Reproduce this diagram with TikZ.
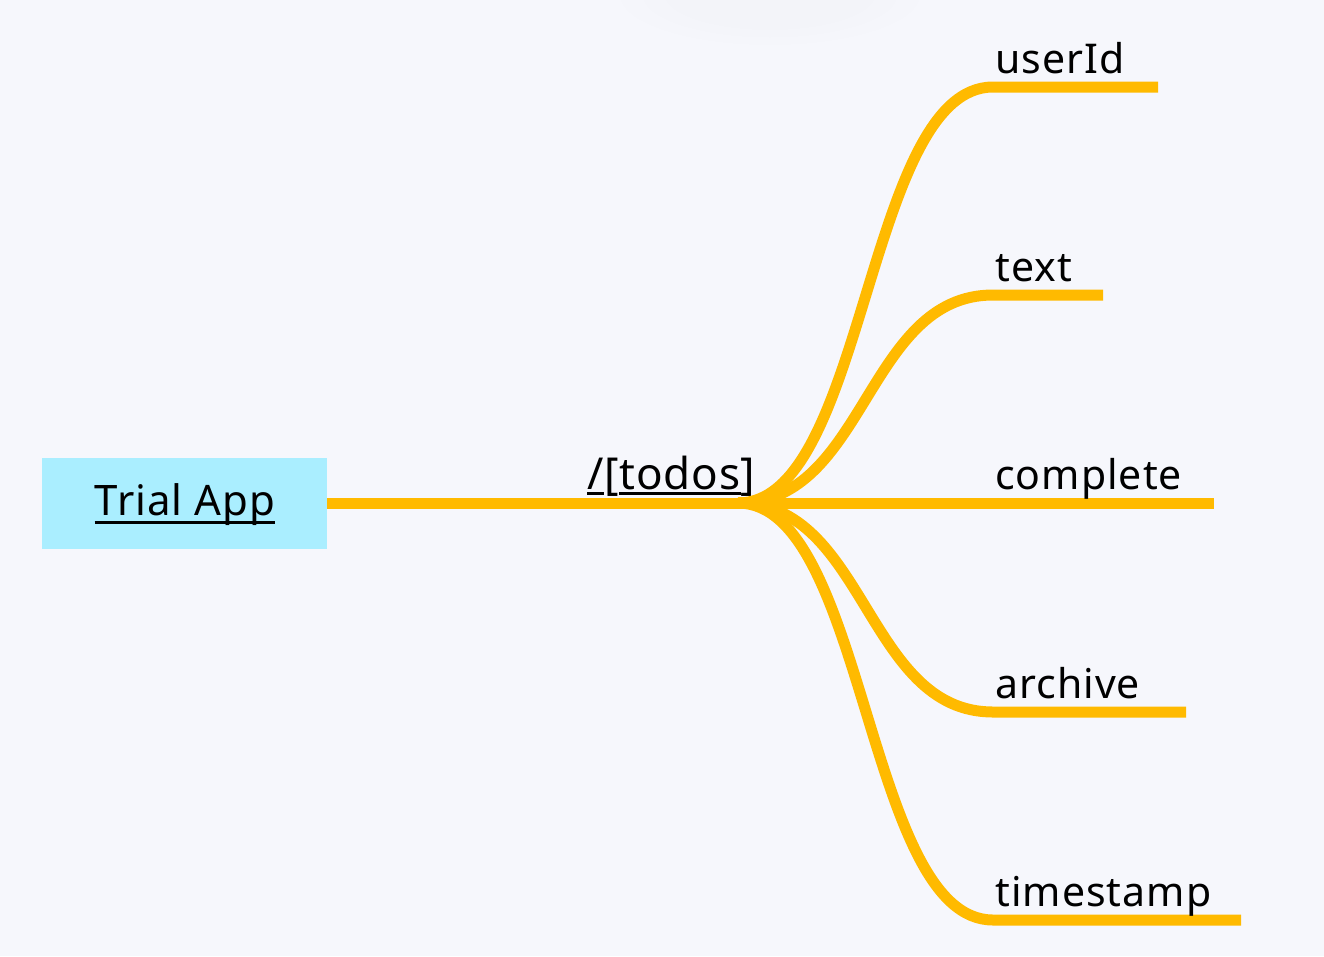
\documentclass[tikz,border=0pt]{standalone}
\usepackage{fontspec}
\setmainfont[LetterSpace=2.5]{Noto Sans}
\definecolor{bg}{HTML}{F6F7FC}
\definecolor{branch}{HTML}{FFBA00}
\definecolor{rootfill}{HTML}{AAEEFF}
\newcommand\myul[2]{\setbox0\hbox{#2}\rlap{\rule[#1]{\wd0}{2.8pt}}\box0}
\tikzset{
  lbl/.style={anchor=base west, inner sep=0pt, font=\fontsize{41}{48}\selectfont},
  wire/.style={draw=branch, line width=11pt, line cap=butt},
}
\begin{document}
\begin{tikzpicture}[x=1pt,y=-1pt]
\fill[bg] (0,0) rectangle (1324,956);
\useasboundingbox (0,0) rectangle (1324,956);
% faint shadow at top
\foreach \r in {1,0.85,0.7}{
  \fill[black,opacity=0.005] (770,-5) ellipse ({150*\r} and {50*\r});
}
% root box
\node[fill=rootfill, minimum width=285pt, minimum height=91pt, inner sep=0pt, anchor=north west] (root) at (42,458) {};
\node[anchor=base, inner sep=0pt, font=\fontsize{42}{48}\selectfont] (rootlbl) at (185,515) {\myul{-8.5pt}{Trial App}};
% hub node
\node[lbl, font=\fontsize{44}{50}\selectfont] (todos) at (587,489) {\myul{-6pt}{/}\kern1pt[\myul{-6pt}{todos}]};
\coordinate (hub) at (738,503);
% child starts
\coordinate (c1) at (993,87);
\coordinate (c2) at (993,295);
\coordinate (c3) at (993,503);
\coordinate (c4) at (993,712);
\coordinate (c5) at (993,920);
\coordinate (e1) at (1158,87);
\coordinate (e2) at (1103,295);
\coordinate (e3) at (1214,503);
\coordinate (e4) at (1186,712);
\coordinate (e5) at (1241,920);
% connectors
\draw[wire] (root.east |- hub) -- (hub);
\draw[wire] (hub) .. controls (866,503) and (866,87) .. (c1) -- (e1);
\draw[wire] (hub) .. controls (866,503) and (866,295) .. (c2) -- (e2);
\draw[wire] (hub) -- (c3) -- (e3);
\draw[wire] (hub) .. controls (866,503) and (866,712) .. (c4) -- (e4);
\draw[wire] (hub) .. controls (866,503) and (866,920) .. (c5) -- (e5);
% labels
\node[lbl] (l1) at (995,73) {userId};
\node[lbl] (l2) at (995,281) {text};
\node[lbl] (l3) at (995,489) {complete};
\node[lbl] (l4) at (995,698) {archive};
\node[lbl] (l5) at (995,906) {timestamp};
\end{tikzpicture}
\end{document}
